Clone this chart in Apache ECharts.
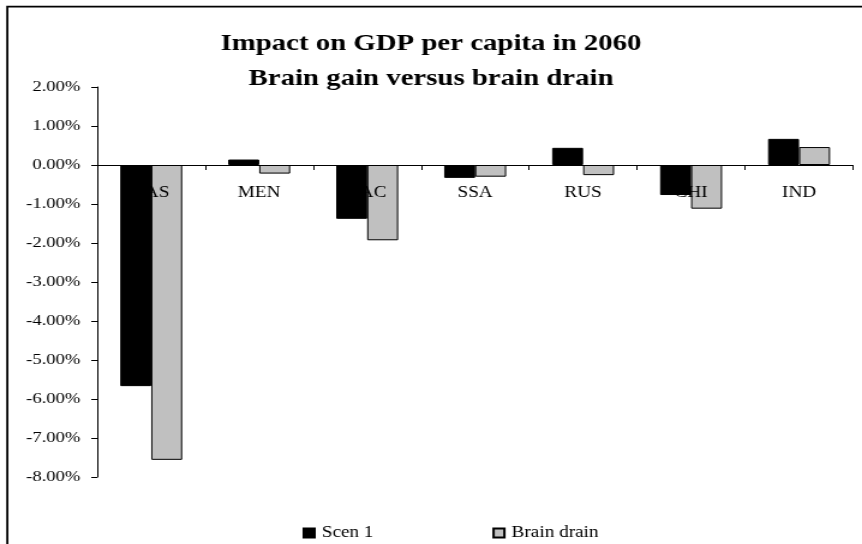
<!DOCTYPE html>
<html>
<head>
<meta charset="utf-8">
<script src="https://cdn.jsdelivr.net/npm/echarts@6/dist/echarts.min.js"></script>
<style>
  html, body { margin: 0; padding: 0; background: #ffffff; overflow: hidden; }
  /* The chart is laid out narrow and widened, giving the wide serif lettering */
  #chart { width: 718px; height: 544px; transform: scaleX(1.2006); transform-origin: 0 0; }
</style>
</head>
<body>
<div id="chart"></div>
<script>
// Regions
const categories = ['EAS', 'MEN', 'LAC', 'SSA', 'RUS', 'CHI', 'IND'];
// Impact on GDP per capita in 2060, in percent
const scen1 = [-5.67, 0.14, -1.38, -0.33, 0.44, -0.77, 0.67];
const brainDrain = [-7.56, -0.22, -1.93, -0.30, -0.26, -1.12, 0.46];
// Value axis range and step, in percent
const yMin = -8;
const yMax = 2;
const yStep = 1;

const FONT = '"Liberation Serif", "Times New Roman", serif';

const GRID_TOP = 87;
const GRID_BOTTOM = 67;
const CHART_H = 544;

// Category labels sit just under the zero line rather than under the plot
const plotH = CHART_H - GRID_TOP - GRID_BOTTOM;
const zeroFromBottom = plotH * (0 - yMin) / (yMax - yMin);
const labelGap = 20;

const chart = echarts.init(document.getElementById('chart'), null, { renderer: 'canvas' });

chart.setOption({
  backgroundColor: '#ffffff',
  animation: false,
  textStyle: { fontFamily: FONT, color: '#000' },
  title: {
    text: 'Impact on GDP per capita in 2060\nBrain gain versus brain drain',
    left: 'center',
    top: 26,
    padding: [0, 0, 0, 8],
    textStyle: {
      fontFamily: FONT,
      fontWeight: 'bold',
      fontSize: 24,
      lineHeight: 35,
      color: '#000'
    }
  },
  legend: {
    data: ['Scen 1', 'Brain drain'],
    left: 247,
    top: 520,
    itemWidth: 9,
    itemHeight: 9,
    itemGap: 99,
    icon: 'rect',
    textStyle: { fontFamily: FONT, fontSize: 16, color: '#000', padding: [0, 0, 0, 1] }
  },
  grid: { left: 81, right: 7.5, top: GRID_TOP, bottom: GRID_BOTTOM, containLabel: false },
  xAxis: {
    type: 'category',
    data: categories,
    z: 3,
    axisLine: { onZero: true, lineStyle: { color: '#000', width: 1 } },
    axisTick: { show: true, length: 5, lineStyle: { color: '#000' } },
    axisLabel: {
      fontFamily: FONT, fontSize: 16, color: '#000',
      margin: labelGap - zeroFromBottom,
      hideOverlap: false
    },
    splitLine: { show: false }
  },
  yAxis: {
    type: 'value',
    min: yMin,
    max: yMax,
    interval: yStep,
    axisLine: { show: true, lineStyle: { color: '#000', width: 1 } },
    axisTick: { show: true, length: 5, lineStyle: { color: '#000' } },
    axisLabel: {
      fontFamily: FONT, fontSize: 15.5, color: '#000', margin: 14,
      formatter: v => v.toFixed(2) + '%'
    },
    splitLine: { show: false }
  },
  series: [
    {
      name: 'Scen 1',
      type: 'bar',
      data: scen1,
      z: 4,
      barWidth: '28.7%',
      barGap: '0%',
      itemStyle: { color: '#000000', borderColor: '#000000', borderWidth: 1 }
    },
    {
      name: 'Brain drain',
      type: 'bar',
      data: brainDrain,
      z: 2,
      barWidth: '28.7%',
      barGap: '0%',
      itemStyle: { color: '#c0c0c0', borderColor: '#000000', borderWidth: 1 }
    }
  ],
  graphic: [
    {
      type: 'polyline',
      silent: true,
      shape: { points: [[6.1, 560], [6.1, 6.7], [730, 6.7]] },
      style: { stroke: '#000', lineWidth: 1.8, fill: null }
    }
  ]
});
</script>
</body>
</html>
